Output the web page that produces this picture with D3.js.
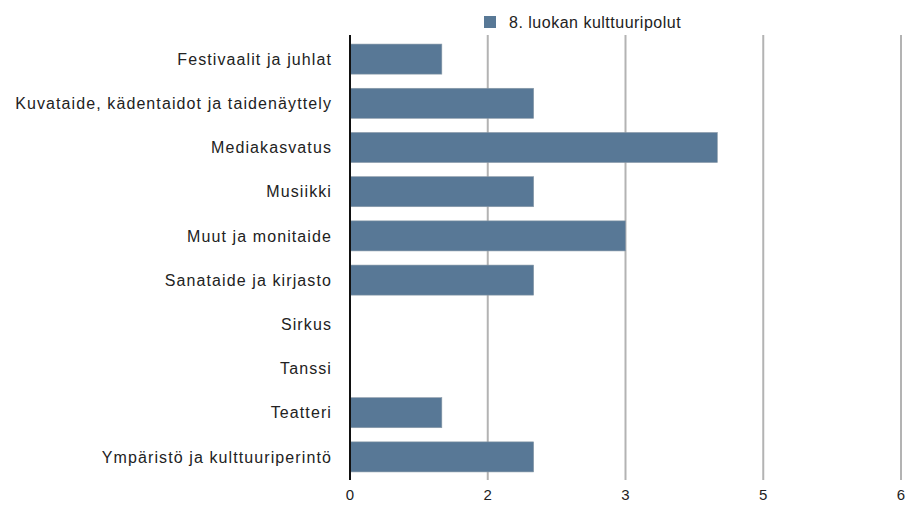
<!DOCTYPE html>
<html>
<head>
<meta charset="utf-8">
<script src="https://cdn.jsdelivr.net/npm/d3@7"></script>
<style>
  body { margin: 0; background: #fff; }
  text { font-family: "Liberation Sans", Arial, sans-serif; fill: #222; letter-spacing: 1.1px; }
</style>
</head>
<body>
<div id="chart"></div>
<script>
var categories = [
  "Festivaalit ja juhlat",
  "Kuvataide, kädentaidot ja taidenäyttely",
  "Mediakasvatus",
  "Musiikki",
  "Muut ja monitaide",
  "Sanataide ja kirjasto",
  "Sirkus",
  "Tanssi",
  "Teatteri",
  "Ympäristö ja kulttuuriperintö"
];
var values = [1, 2, 4, 2, 3, 2, 0, 0, 1, 2];
var seriesName = "8. luokan kulttuuripolut";
var tickValues = [0, 1.5, 3, 4.5, 6];
var tickLabels = ["0", "2", "3", "5", "6"];

var svgWidth = 912;
var svgHeight = 506;
var margin = { top: 37, right: 11, bottom: 27, left: 350 };
var width = svgWidth - margin.left - margin.right;
var height = svgHeight - margin.top - margin.bottom;

var svg = d3.select("#chart")
  .append("svg")
  .attr("width", svgWidth)
  .attr("height", svgHeight);

var chartGroup = svg.append("g")
  .attr("transform", `translate(${margin.left}, ${margin.top})`);

var xScale = d3.scaleLinear().domain([0, 6]).range([0, width]);
var yScale = d3.scaleBand().domain(categories).range([0, height]).paddingInner(0.32).paddingOuter(0.16);

// grid lines
chartGroup.selectAll(".grid")
  .data(tickValues.slice(1))
  .enter()
  .append("line")
  .attr("x1", d => xScale(d))
  .attr("x2", d => xScale(d))
  .attr("y1", -2)
  .attr("y2", height + 1)
  .attr("stroke", "#b3b3b3")
  .attr("stroke-width", 2);

// bars
chartGroup.selectAll("rect.bar")
  .data(values)
  .enter()
  .append("rect")
  .attr("class", "bar")
  .attr("x", xScale(0))
  .attr("y", (d, i) => yScale(categories[i]))
  .attr("width", d => xScale(d) - xScale(0))
  .attr("height", yScale.bandwidth())
  .attr("fill", "#587896")
  .attr("stroke", d => d > 0 ? "#8a9aa8" : "none")
  .attr("stroke-width", 0.6);

// axis line
chartGroup.append("line")
  .attr("x1", 0).attr("x2", 0)
  .attr("y1", -2).attr("y2", height + 1)
  .attr("stroke", "#111")
  .attr("stroke-width", 2);

// y labels
chartGroup.selectAll(".ylabel")
  .data(categories)
  .enter()
  .append("text")
  .attr("x", -18)
  .attr("y", d => yScale(d) + yScale.bandwidth() / 2)
  .attr("dy", "0.35em")
  .attr("text-anchor", "end")
  .style("font-size", "16px")
  .text(d => d);

// x tick labels
chartGroup.selectAll(".xlabel")
  .data(tickValues)
  .enter()
  .append("text")
  .attr("x", d => xScale(d))
  .attr("y", height + 16)
  .attr("dy", "0.35em")
  .attr("text-anchor", "middle")
  .style("font-size", "15px")
  .style("letter-spacing", "0px")
  .text((d, i) => tickLabels[i]);

// legend
var legend = svg.append("g").attr("transform", "translate(484, 16)");
legend.append("rect")
  .attr("width", 12).attr("height", 12)
  .attr("fill", "#587896");
legend.append("text")
  .attr("x", 25).attr("y", 6)
  .attr("dy", "0.35em")
  .style("font-size", "16px")
  .style("letter-spacing", "0.5px")
  .text(seriesName);
</script>
</body>
</html>
